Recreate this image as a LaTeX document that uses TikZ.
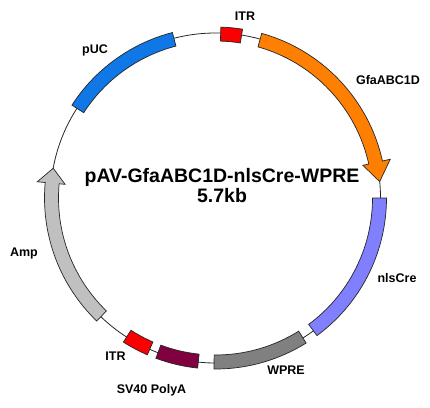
\documentclass[tikz,border=0pt]{standalone}
\usepackage{fontspec}
\setmainfont{Liberation Sans}
\definecolor{cpuc}{RGB}{15,120,230}
\definecolor{citr}{RGB}{250,0,0}
\definecolor{cgfa}{RGB}{255,128,0}
\definecolor{ccre}{RGB}{128,128,255}
\definecolor{cwpre}{RGB}{128,128,128}
\definecolor{csv}{RGB}{128,0,64}
\definecolor{camp}{RGB}{192,192,192}
\definecolor{cline}{RGB}{40,40,40}
\newcommand\segbox[3]{%
  \draw[feat,fill=#1] ([shift={(#2:171pt)}]C) arc[start angle=#2,end angle=#3,radius=171pt]
    -- ([shift={(#3:157pt)}]C) arc[start angle=#3,end angle=#2,radius=157pt] -- cycle;}
\newcommand\segarrow[4]{%
  \draw[feat,fill=#1] ([shift={(#2:171pt)}]C) arc[start angle=#2,end angle=#3,radius=171pt]
    -- ([shift={(#3:179pt)}]C) -- ([shift={(#4:165pt)}]C) -- ([shift={(#3:151pt)}]C)
    -- ([shift={(#3:157pt)}]C) arc[start angle=#3,end angle=#2,radius=157pt] -- cycle;}
\begin{document}
\begin{tikzpicture}[
  feat/.style={draw=black!85, line width=0.7pt, line join=miter},
  circ/.style={draw=cline, line width=0.8pt},
  lab/.style={font=\fontsize{12.5}{15}\selectfont\bfseries, inner sep=0pt, anchor=base},
  ttl/.style={font=\fontsize{19.5}{22}\selectfont\bfseries, inner sep=0pt, anchor=base}
]
\fill[white] (0,0) rectangle (430pt,-407pt);
\useasboundingbox (0,0) rectangle (430pt,-407pt);
\coordinate (C) at (215.5pt,-198pt);
\draw[circ] (C) circle[radius=165pt];
% features
\segbox{cpuc}{104.6}{147.1}
\segbox{citr}{80.9}{88.2}
\segarrow{cgfa}{74.3}{12.5}{5.7}
\segbox{ccre}{0}{-53.6}
\segbox{cwpre}{-58}{-90.5}
\segbox{csv}{-96}{-110.4}
\segbox{citr}{-113.5}{-122.6}
\segarrow{camp}{226}{174.8}{169.6}
% labels
\node[lab] (lpuc) at (95pt,-53pt) {pUC};
\node[lab] (litr1) at (245pt,-20pt) {ITR};
\node[lab] (lgfa) at (388pt,-84pt) {GfaABC1D};
\node[lab] (lcre) at (397pt,-282pt) {nlsCre};
\node[lab] (lwpre) at (286pt,-374pt) {WPRE};
\node[lab] (lsv) at (151.5pt,-393pt) {SV40 PolyA};
\node[lab] (litr2) at (115.5pt,-360.5pt) {ITR};
\node[lab] (lamp) at (24pt,-256.5pt) {Amp};
\node[ttl] (t1) at (222pt,-182.5pt) {pAV-GfaABC1D-nlsCre-WPRE};
\node[ttl] (t2) at (222pt,-202pt) {5.7kb};
\end{tikzpicture}
\end{document}
